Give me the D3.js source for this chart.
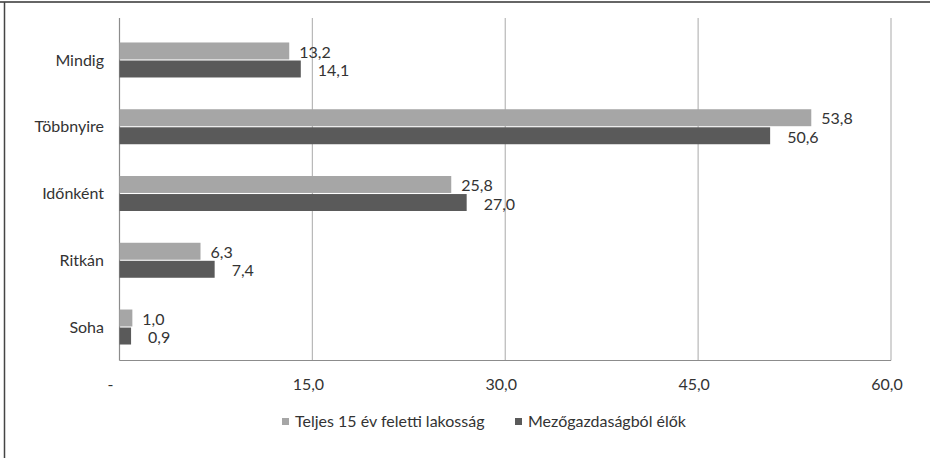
<!DOCTYPE html>
<html>
<head>
<meta charset="utf-8">
<script src="https://cdn.jsdelivr.net/npm/d3@7"></script>
<style>
  html, body { margin: 0; padding: 0; background: #fff; }
  svg { display: block; }
  text { font-family: Lato, "Open Sans", sans-serif; fill: #333; }
</style>
</head>
<body>
<svg id="chart" width="930" height="458"></svg>
<script>
const categories = ["Mindig", "Többnyire", "Időnként", "Ritkán", "Soha"];
const seriesNames = ["Teljes 15 év feletti lakosság", "Mezőgazdaságból élők"];
const seriesTotal = [13.2, 53.8, 25.8, 6.3, 1.0];
const seriesAgri = [14.1, 50.6, 27.0, 7.4, 0.9];
const tickValues = [0, 15, 30, 45, 60];
const tickLabels = ["-", "15,0", "30,0", "45,0", "60,0"];
const colors = ["#a6a6a6", "#5a5a5a"];

(function () {
const svg = d3.select("#chart");
const W = 930, H = 458;
const FS = 16;
const x = d3.scaleLinear().domain([0, 60]).range([119.5, 891]);
const y = d3.scaleBand().domain(categories).range([26.6, 360.4]).padding(0);
const groupH = 35;
const y1 = d3.scaleBand().domain(seriesNames).range([0, groupH]).paddingInner(0.06);
const fmt = v => d3.format(".1f")(v).replace(".", ",");

// frame lines
svg.append("line").attr("x1", 0).attr("x2", W).attr("y1", 2).attr("y2", 2)
  .attr("stroke", "#333").attr("stroke-width", 1.5);
svg.append("line").attr("x1", 4.5).attr("x2", 4.5).attr("y1", 2).attr("y2", H)
  .attr("stroke", "#444").attr("stroke-width", 1.5);

const plotTop = 18, plotBottom = 360.5;

// gridlines
svg.append("g").selectAll("line").data(tickValues.slice(1)).join("line")
  .attr("x1", d => x(d)).attr("x2", d => x(d))
  .attr("y1", plotTop).attr("y2", plotBottom)
  .attr("stroke", "#b8b8b8").attr("stroke-width", 1.2);

// axes lines
svg.append("line").attr("x1", x(0)).attr("x2", x(0)).attr("y1", plotTop).attr("y2", plotBottom)
  .attr("stroke", "#8c8c8c").attr("stroke-width", 1.2);
svg.append("line").attr("x1", x(0)).attr("x2", x(60)).attr("y1", plotBottom).attr("y2", plotBottom)
  .attr("stroke", "#8c8c8c").attr("stroke-width", 1.2);

// x tick labels
svg.append("g").selectAll("text").data(tickValues).join("text")
  .attr("x", (d, i) => x(d) - (i === 0 ? 9 : 4))
  .attr("y", 384)
  .attr("dy", "0.35em")
  .attr("text-anchor", "middle")
  .attr("font-size", FS)
  .text((d, i) => tickLabels[i]);

// category labels
svg.append("g").selectAll("text").data(categories).join("text")
  .attr("x", 104)
  .attr("y", d => y(d) + y.bandwidth() / 2)
  .attr("dy", "0.35em")
  .attr("text-anchor", "end")
  .attr("font-size", FS)
  .text(d => d);

const allSeries = [seriesTotal, seriesAgri];
const labelOffsets = [10, 17];
allSeries.forEach((vals, si) => {
  const g = svg.append("g");
  const data = categories.map((c, i) => ({ c, v: vals[i] }));
  g.selectAll("rect").data(data).join("rect")
    .attr("x", x(0))
    .attr("y", d => y(d.c) + (y.bandwidth() - groupH) / 2 + y1(seriesNames[si]))
    .attr("width", d => x(d.v) - x(0))
    .attr("height", y1.bandwidth())
    .attr("fill", colors[si]);
  g.selectAll("text").data(data).join("text")
    .attr("x", d => x(d.v) + labelOffsets[si])
    .attr("y", d => y(d.c) + (y.bandwidth() - groupH) / 2 + y1(seriesNames[si]) + y1.bandwidth() / 2 + (si === 0 ? 1 : 1.5))
    .attr("dy", "0.35em")
    .attr("font-size", FS)
    .text(d => fmt(d.v));
});

// legend
const legendItems = [{ name: seriesNames[0], x: 282 }, { name: seriesNames[1], x: 515 }];
const lg = svg.append("g");
legendItems.forEach((it, i) => {
  lg.append("rect").attr("x", it.x).attr("y", 418).attr("width", 7).attr("height", 7).attr("fill", colors[i]);
  lg.append("text").attr("x", it.x + 13).attr("y", 421.5).attr("dy", "0.35em")
    .attr("font-size", FS).text(it.name);
});
})();
</script>
</body>
</html>
